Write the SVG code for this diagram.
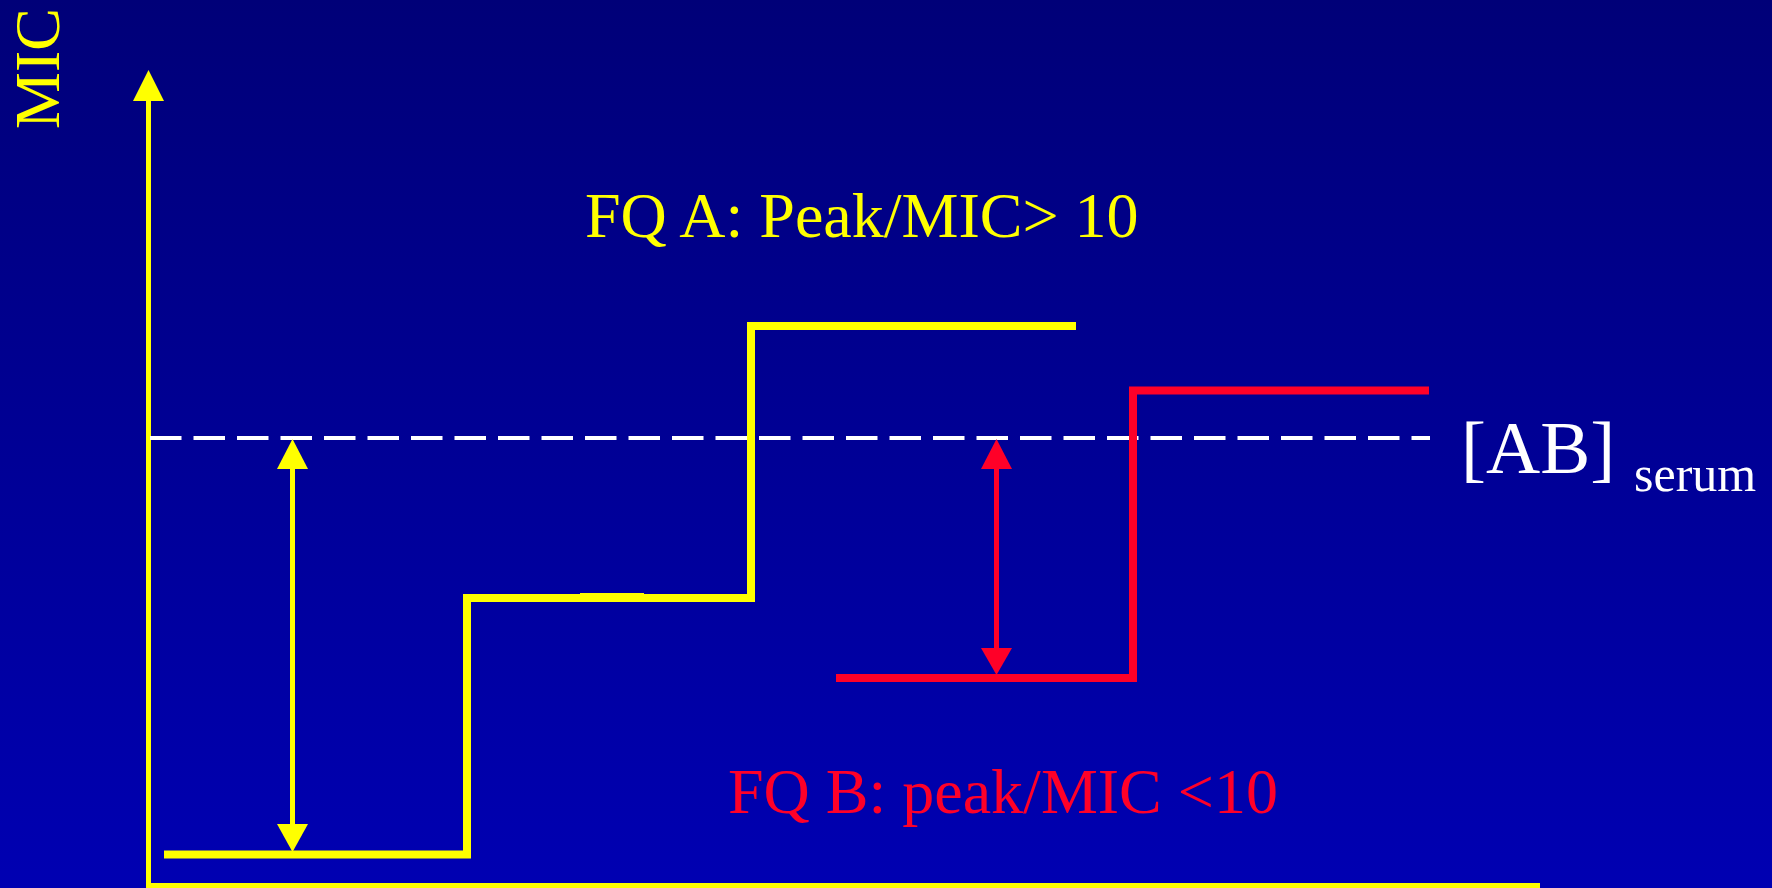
<svg xmlns="http://www.w3.org/2000/svg" width="1772" height="888" viewBox="0 0 1772 888">
<defs>
<linearGradient id="bg" x1="0" y1="0" x2="0" y2="1">
<stop offset="0" stop-color="#000078"/>
<stop offset="1" stop-color="#0000B2"/>
</linearGradient>
<style>
.t{font-family:"Liberation Serif","Times New Roman",serif;}
.y{fill:#FFFF00;}
.r{fill:#FF0028;}
.w{fill:#FFFFFF;}
.ys{stroke:#FFFF00;fill:none;stroke-linejoin:miter;stroke-linecap:butt;}
.rs{stroke:#FF0028;fill:none;stroke-linejoin:miter;stroke-linecap:butt;}
</style>
</defs>
<rect width="1772" height="888" fill="url(#bg)"/>
<g id="axes">
<line class="ys" x1="148.5" y1="98" x2="148.5" y2="888" stroke-width="5"/>
<line class="ys" x1="146" y1="885.5" x2="1540" y2="885.5" stroke-width="5"/>
<polygon class="y" points="148.5,70 133,101 164,101"/>
<text class="t y" font-size="64" transform="translate(59,129) rotate(-90)">MIC</text>
</g>
<g id="serum-level">
<line x1="150" y1="438" x2="1430" y2="438" stroke="#FFFFFF" stroke-width="4" stroke-dasharray="31.5 12"/>
<text class="t w" font-size="75" x="1461" y="473">[AB]</text>
<text class="t w" font-size="50" x="1634" y="491">serum</text>
</g>
<g id="fq-a">
<path class="ys" stroke-width="8" d="M164,854.5 H467 V598 H751 V326 H1076"/>
<rect class="y" x="580" y="593" width="64" height="9"/>
<text class="t y" font-size="64" x="585" y="237">FQ A: Peak/MIC&gt; 10</text>
</g>
<g id="fq-b">
<path class="rs" stroke-width="8" d="M836,678 H1133 V390.5 H1429"/>
<text class="t r" font-size="64" x="728" y="813">FQ B: peak/MIC &lt;10</text>
</g>
<g id="connectors">
<line class="ys" x1="292.5" y1="465" x2="292.5" y2="828" stroke-width="5"/>
<polygon class="y" points="292.5,439 277,469 308,469"/>
<polygon class="y" points="292.5,852 277,824 308,824"/>
<line class="rs" x1="996.5" y1="465" x2="996.5" y2="652" stroke-width="5"/>
<polygon class="r" points="996.5,439 981,469 1012,469"/>
<polygon class="r" points="996.5,675 981,648 1012,648"/>
</g>
</svg>
